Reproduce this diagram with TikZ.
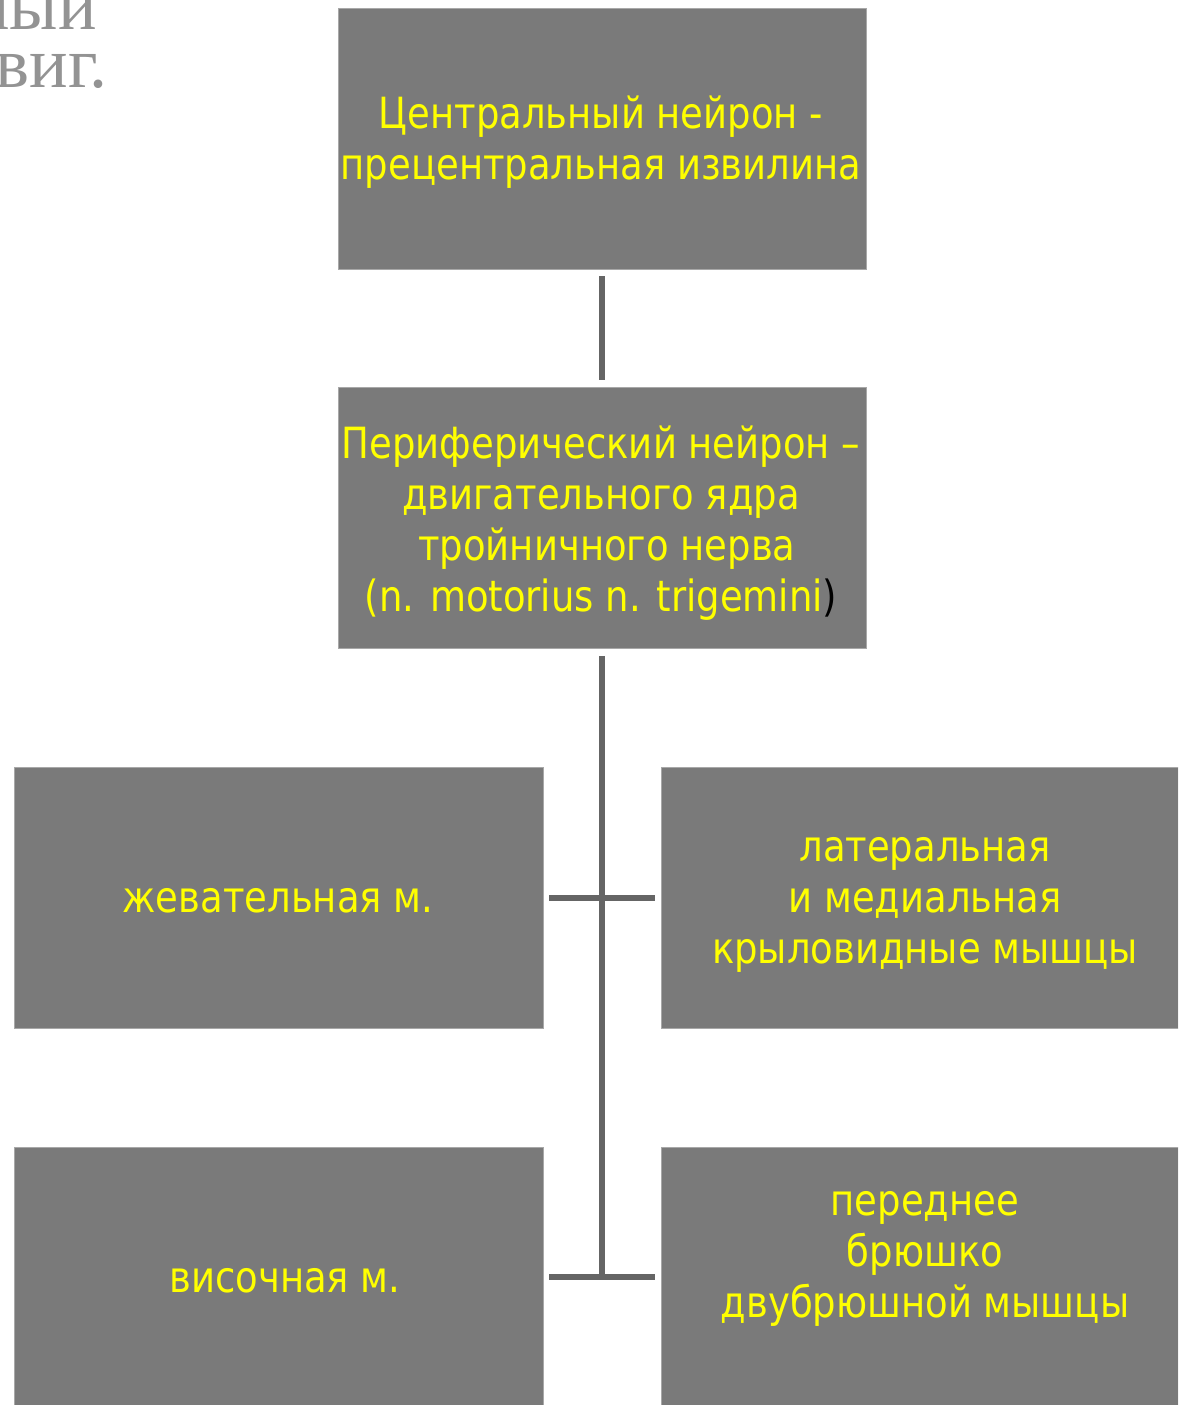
\documentclass[tikz,border=0pt]{standalone}
\usepackage{fontspec}
\setmainfont{DejaVu Sans}[FakeStretch=0.86]
\newfontfamily\serifcyr{Liberation Serif}
\definecolor{boxgray}{HTML}{7A7A7A}
\definecolor{linegray}{HTML}{656565}
\definecolor{edgegray}{HTML}{A8A8A8}
\definecolor{ttlgray}{HTML}{939393}
\definecolor{txtyellow}{HTML}{FFFF00}
\tikzset{
  box/.style={draw=edgegray, line width=0.8pt, fill=boxgray, inner sep=0pt},
  boxtext/.style={text=txtyellow, align=center, inner sep=0pt, font=\fontsize{43}{51}\selectfont},
  conn/.style={draw=linegray, line width=6pt},
  ttl/.style={text=ttlgray, inner sep=0pt, font=\serifcyr\fontsize{72}{72}\selectfont}
}
\begin{document}
\begin{tikzpicture}[x=1pt,y=-1pt]
\useasboundingbox (0,0) rectangle (1178,1405);
\clip (0,0) rectangle (1178,1405);
% partially visible title
\node[ttl, anchor=base east, text depth=0pt] (t1) at (97,30) {ный};
\node[ttl, anchor=base east, text height=0.45em] (t2) at (108,88) {виг.};
% boxes
\node[box, minimum width=528pt, minimum height=261pt] (top) at (602,138.5) {};
\node[box, minimum width=528pt, minimum height=261pt] (mid) at (602,518) {};
\node[box, minimum width=529pt, minimum height=261pt] (l1) at (278.5,897.5) {};
\node[box, minimum width=517pt, minimum height=261pt] (r1) at (919.5,897.5) {};
\node[box, minimum width=529pt, minimum height=262pt] (l2) at (278.5,1278) {};
\node[box, minimum width=517pt, minimum height=262pt] (r2) at (919.5,1278) {};
% texts
\node[boxtext] (toptxt) at (601,142) {Центральный нейрон -\\прецентральная извилина};
\node[boxtext] (midtxt) at (601,523) {Периферический нейрон –\\двигательного ядра\\\ тройничного нерва\\(n. motorius n. trigemini{\color{black})}};
\node[boxtext] (l1txt) at (278,901) {жевательная м.};
\node[boxtext] (r1txt) at (925,905) {латеральная\\и медиальная\\крыловидные мышцы};
\node[boxtext] (l2txt) at (285,1281) {височная м.};
\node[boxtext] (r2txt) at (925,1259) {переднее\\брюшко\\двубрюшной мышцы};
% connectors
\coordinate (jb) at (602,1277);
\draw[conn] ([yshift=-7pt]top.south) -- ([yshift=7pt]mid.north);
\draw[conn] ([yshift=-7pt]mid.south) -- (jb);
\draw[conn] ([xshift=6pt]l1.east) -- ([xshift=-6pt]r1.west);
\draw[conn] ([xshift=6pt]l2.east |- jb) -- ([xshift=-6pt]r2.west |- jb);
\end{tikzpicture}
\end{document}
